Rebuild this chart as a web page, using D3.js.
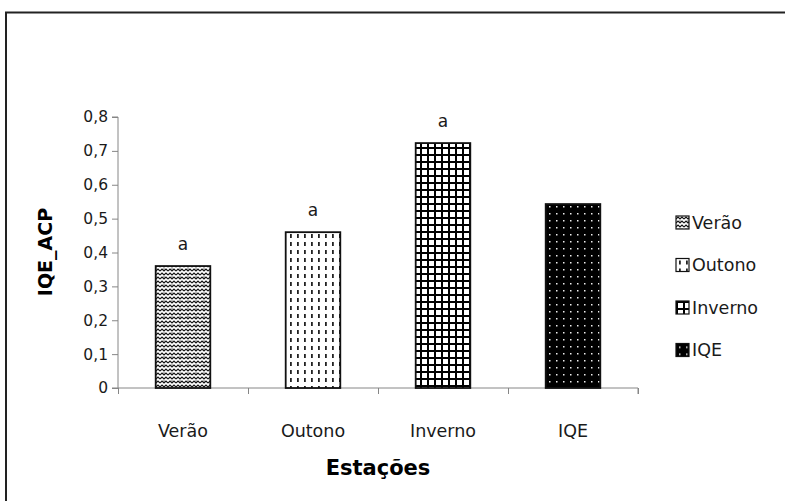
<!DOCTYPE html>
<html><head><meta charset="utf-8">
<script src="https://cdn.jsdelivr.net/npm/d3@7"></script>
<style>body{margin:0;background:#fff}svg{display:block}</style>
</head><body>
<script>
const categories = ["Verão", "Outono", "Inverno", "IQE"];
const values = [0.36, 0.46, 0.723, 0.543];
const letters = ["a", "a", "a", ""];
const yTicks = [0, 0.1, 0.2, 0.3, 0.4, 0.5, 0.6, 0.7, 0.8];
const yTickLabels = ["0", "0,1", "0,2", "0,3", "0,4", "0,5", "0,6", "0,7", "0,8"];
const xTitle = "Estações";
const yTitle = "IQE_ACP";

const W = 785, H = 501;
const svg = d3.select("body").append("svg").attr("width", W).attr("height", H);
const defs = svg.append("defs");

function pat(id, w, h, draw) {
  const p = defs.append("pattern").attr("id", id).attr("patternUnits", "userSpaceOnUse")
    .attr("width", w).attr("height", h);
  draw(p);
}
pat("p0", 8, 8, p => {
  p.append("rect").attr("width", 8).attr("height", 8).attr("fill", "#fff");
  p.append("path").attr("d", "M0,3 L2,1 L4,3 L6,1 L8,3 M0,7 L2,5 L4,7 L6,5 L8,7")
    .attr("stroke", "#111").attr("stroke-width", 1.1).attr("fill", "none");
  p.append("rect").attr("x", 3.5).attr("y", 4.5).attr("width", 1).attr("height", 1).attr("fill", "#000");
});
pat("p1", 7, 8, p => {
  p.append("rect").attr("width", 7).attr("height", 8).attr("fill", "#fff");
  p.append("rect").attr("x", 3).attr("y", 2).attr("width", 1.8).attr("height", 4).attr("fill", "#222");
});
pat("p2", 7, 7, p => {
  p.append("rect").attr("width", 7).attr("height", 7).attr("fill", "#000");
  p.append("rect").attr("x", 2).attr("y", 2).attr("width", 5).attr("height", 5).attr("fill", "#fff");
});
pat("p3", 7, 7, p => {
  p.append("rect").attr("width", 7).attr("height", 7).attr("fill", "#000");
  p.append("rect").attr("x", 3).attr("y", 3).attr("width", 1.5).attr("height", 1.5).attr("fill", "#eee");
});
const fills = ["url(#p0)", "url(#p1)", "url(#p2)", "url(#p3)"];

svg.append("rect").attr("x", 6).attr("y", 12.5).attr("width", 800).attr("height", 500)
  .attr("fill", "none").attr("stroke", "#222").attr("stroke-width", 2);

const x0 = 118, x1 = 638, yB = 388, yT = 117;
const x = d3.scaleBand().domain(categories).range([x0, x1]).paddingInner(0.58).paddingOuter(0.29);
const y = d3.scaleLinear().domain([0, 0.8]).range([yB, yT]);

const font = "'DejaVu Sans', Verdana, sans-serif";

const yAxis = svg.append("g").attr("transform", `translate(${x0},0)`)
  .call(d3.axisLeft(y).tickValues(yTicks).tickSize(6).tickPadding(4)
    .tickFormat((d, i) => yTickLabels[i]));
yAxis.select(".domain").attr("stroke", "#868686").attr("d", `M-6,${yT}H0V${yB}`);
yAxis.selectAll(".tick line").attr("stroke", "#868686");
yAxis.selectAll(".tick text").attr("font-family", font).attr("font-size", 15.5).attr("fill", "#1a1a1a");

const xb = d3.scaleLinear().domain([0, 4]).range([x0, x1]);
const xAxisG = svg.append("g").attr("transform", `translate(0,${yB})`);
xAxisG.call(d3.axisBottom(xb).tickValues([0, 1, 2, 3, 4]).tickSize(6).tickFormat(""));
xAxisG.select(".domain").attr("stroke", "#868686").attr("d", `M${x0 - 6},0H${x1}V6`);
xAxisG.selectAll(".tick line").attr("stroke", "#868686");
svg.append("g").selectAll("text").data(categories).join("text")
  .attr("x", d => xb(categories.indexOf(d) + 0.5)).attr("y", yB + 49)
  .attr("text-anchor", "middle").attr("font-family", font).attr("font-size", 17.5)
  .attr("fill", "#1a1a1a").text(d => d);

svg.append("g").selectAll("rect").data(categories).join("rect")
  .attr("x", d => x(d)).attr("width", x.bandwidth())
  .attr("y", (d, i) => y(values[i])).attr("height", (d, i) => yB - y(values[i]))
  .attr("fill", (d, i) => fills[i]).attr("stroke", "#111").attr("stroke-width", 1.8);

svg.append("g").selectAll("text").data(categories).join("text")
  .attr("x", d => x(d) + x.bandwidth() / 2).attr("y", (d, i) => y(values[i]) - 16)
  .attr("text-anchor", "middle").attr("font-family", font).attr("font-size", 17)
  .attr("fill", "#1a1a1a").text((d, i) => letters[i]);

svg.append("text").attr("x", 378).attr("y", 475).attr("text-anchor", "middle")
  .attr("font-family", font).attr("font-weight", "bold").attr("font-size", 21).text(xTitle);
svg.append("text").attr("transform", `translate(52,252) rotate(-90)`).attr("text-anchor", "middle")
  .attr("font-family", font).attr("font-weight", "bold").attr("font-size", 19).text(yTitle);

const lg = svg.append("g").selectAll("g").data(categories).join("g")
  .attr("transform", (d, i) => `translate(676,${216 + i * 42.5})`);
lg.append("rect").attr("width", 13).attr("height", 13)
  .attr("fill", (d, i) => fills[i]).attr("stroke", "#111").attr("stroke-width", 1.2);
lg.append("text").attr("x", 16).attr("y", 12.5).attr("font-family", font).attr("font-size", 17.5)
  .attr("fill", "#1a1a1a").text(d => d);
</script>
</body></html>
